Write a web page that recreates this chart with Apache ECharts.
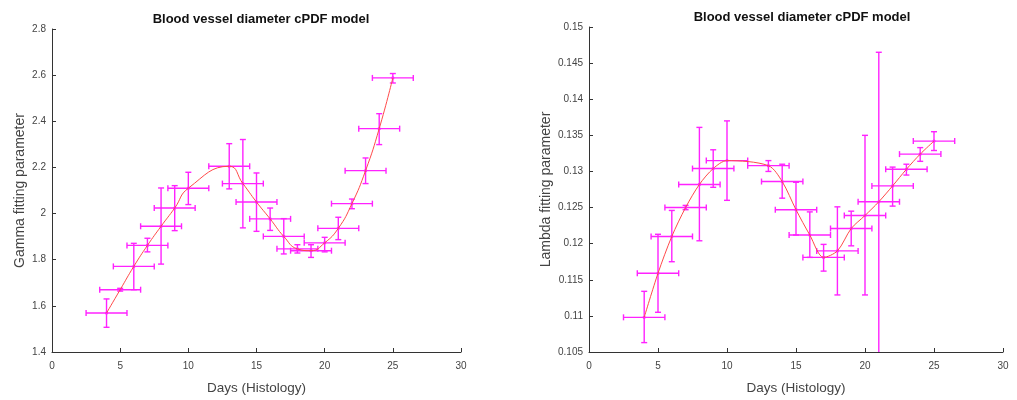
<!DOCTYPE html>
<html>
<head>
<meta charset="utf-8">
<script src="https://cdn.jsdelivr.net/npm/echarts@6/dist/echarts.min.js"></script>
<style>html,body{margin:0;padding:0;background:#fff}#c{width:1017px;height:400px}</style>
</head>
<body>
<div id="c"></div>
<script>
// ---- data ----
const days = [4, 5, 6, 7, 8, 9, 10, 13, 14, 15, 16, 17, 18, 19, 20, 21, 22, 23, 24, 25];
const dayErr = [1.5, 1.5, 1.5, 1.5, 1.5, 1.5, 1.5, 1.5, 1.5, 1.5, 1.5, 1.5, 1.5, 1.5, 1.5, 1.5, 1.5, 1.5, 1.5, 1.5];

const gammaVal  = [1.569, 1.670, 1.771, 1.862, 1.945, 2.024, 2.110, 2.205, 2.130, 2.050, 1.977, 1.901, 1.847, 1.839, 1.873, 1.936, 2.043, 2.186, 2.368, 2.588];
const gammaLow  = [1.507, 1.664, 1.670, 1.834, 1.781, 1.926, 2.039, 2.107, 1.938, 1.923, 1.927, 1.825, 1.829, 1.810, 1.834, 1.887, 2.021, 2.130, 2.299, 2.566];
const gammaHigh = [1.630, 1.676, 1.871, 1.893, 2.111, 2.121, 2.179, 2.303, 2.321, 2.176, 2.024, 1.978, 1.865, 1.865, 1.897, 1.984, 2.063, 2.241, 2.433, 2.607];

const lambdaVal  = [0.1098, 0.1159, 0.1210, 0.1250, 0.1282, 0.1304, 0.1315, 0.1308, 0.1286, 0.1247, 0.1212, 0.1181, 0.1190, 0.1221, 0.1239, 0.1258, 0.1280, 0.1303, 0.1324, 0.1342];
const lambdaLow  = [0.1063, 0.1105, 0.1175, 0.1247, 0.1204, 0.1278, 0.1260, 0.1300, 0.1263, 0.1212, 0.1181, 0.1162, 0.1129, 0.1197, 0.1129, 0.1040, 0.1252, 0.1295, 0.1314, 0.1329];
const lambdaHigh = [0.1134, 0.1213, 0.1246, 0.1253, 0.1361, 0.1330, 0.1370, 0.1315, 0.1310, 0.1285, 0.1244, 0.1199, 0.1251, 0.1245, 0.1350, 0.1465, 0.1306, 0.1310, 0.1333, 0.1355];

const titleText = 'Blood vessel diameter cPDF model';
const xName = 'Days (Histology)';
const gammaName = 'Gamma fitting parameter';
const lambdaName = 'Lambda fitting parameter';

// ---- chart ----
const MAG = '#ff22ff';
const LINE = '#ff4a4a';
const FONT = '"Liberation Sans", Arial, sans-serif';

function errData(val, low, high) {
  return days.map((d, i) => [d, val[i], d - dayErr[i], d + dayErr[i], low[i], high[i]]);
}
function renderErr(params, api) {
  const x = api.value(0), y = api.value(1);
  const xl = api.value(2), xh = api.value(3), yl = api.value(4), yh = api.value(5);
  const c = api.coord([x, y]);
  const a = api.coord([xl, y]), b = api.coord([xh, y]);
  const lo = api.coord([x, yl]), hi = api.coord([x, yh]);
  const st = { stroke: MAG, lineWidth: 1.4 };
  const cap = 3;
  const L = (x1, y1, x2, y2) => ({ type: 'line', shape: { x1, y1, x2, y2 }, style: st });
  return {
    type: 'group',
    children: [
      L(a[0], a[1], b[0], b[1]),
      L(a[0], a[1] - cap, a[0], a[1] + cap),
      L(b[0], b[1] - cap, b[0], b[1] + cap),
      L(lo[0], lo[1], hi[0], hi[1]),
      L(lo[0] - cap, lo[1], lo[0] + cap, lo[1]),
      L(hi[0] - cap, hi[1], hi[0] + cap, hi[1]),
      { type: 'circle', shape: { cx: c[0], cy: c[1], r: 1.6 }, style: { fill: MAG } }
    ]
  };
}

function xAxisCfg(gi) {
  return {
    gridIndex: gi, type: 'value', min: 0, max: 30, interval: 5,
    name: xName, nameLocation: 'middle', nameGap: 29,
    nameTextStyle: { fontFamily: FONT, fontSize: 13.5, color: '#444' },
    axisLine: { onZero: false, lineStyle: { color: '#333', width: 1 } },
    axisTick: { inside: true, length: 4, lineStyle: { color: '#333' } },
    axisLabel: { fontFamily: FONT, fontSize: 10, color: '#444', margin: 9 },
    splitLine: { show: false }
  };
}
function yAxisCfg(gi, min, max, interval, name, gap) {
  return {
    gridIndex: gi, type: 'value', min, max, interval,
    name, nameLocation: 'middle', nameGap: gap,
    nameTextStyle: { fontFamily: FONT, fontSize: 14, color: '#444' },
    axisLine: { show: true, onZero: false, lineStyle: { color: '#333', width: 1 } },
    axisTick: { show: true, inside: true, length: 4, lineStyle: { color: '#333' } },
    axisLabel: { fontFamily: FONT, fontSize: 10, color: '#444', margin: 6 },
    splitLine: { show: false }
  };
}

const chart = echarts.init(document.getElementById('c'), null, { renderer: 'canvas' });
chart.setOption({
  animation: false,
  backgroundColor: '#fff',
  title: [
    { text: titleText, left: 256, top: 8, textAlign: 'center',
      textStyle: { fontFamily: FONT, fontSize: 13, fontWeight: 'bold', color: '#111' } },
    { text: titleText, left: 797, top: 6, textAlign: 'center',
      textStyle: { fontFamily: FONT, fontSize: 13, fontWeight: 'bold', color: '#111' } }
  ],
  grid: [
    { left: 52, right: 556, top: 29, bottom: 48 },
    { left: 589, right: 14, top: 27, bottom: 46 }
  ],
  xAxis: [xAxisCfg(0), xAxisCfg(1)],
  yAxis: [
    yAxisCfg(0, 1.4, 2.8, 0.2, gammaName, 25),
    yAxisCfg(1, 0.105, 0.15, 0.005, lambdaName, 36)
  ],
  series: [
    { type: 'custom', xAxisIndex: 0, yAxisIndex: 0, clip: true, renderItem: renderErr,
      encode: { x: [0, 2, 3], y: [1, 4, 5] }, data: errData(gammaVal, gammaLow, gammaHigh), z: 2 },
    { type: 'line', xAxisIndex: 0, yAxisIndex: 0, smooth: 0.5, showSymbol: false,
      lineStyle: { color: LINE, width: 1 }, data: days.map((d, i) => [d, gammaVal[i]]), z: 3 },
    { type: 'custom', xAxisIndex: 1, yAxisIndex: 1, clip: true, renderItem: renderErr,
      encode: { x: [0, 2, 3], y: [1, 4, 5] }, data: errData(lambdaVal, lambdaLow, lambdaHigh), z: 2 },
    { type: 'line', xAxisIndex: 1, yAxisIndex: 1, smooth: 0.3, showSymbol: false,
      lineStyle: { color: LINE, width: 1 }, data: days.map((d, i) => [d, lambdaVal[i]]), z: 3 }
  ]
});
</script>
</body>
</html>
